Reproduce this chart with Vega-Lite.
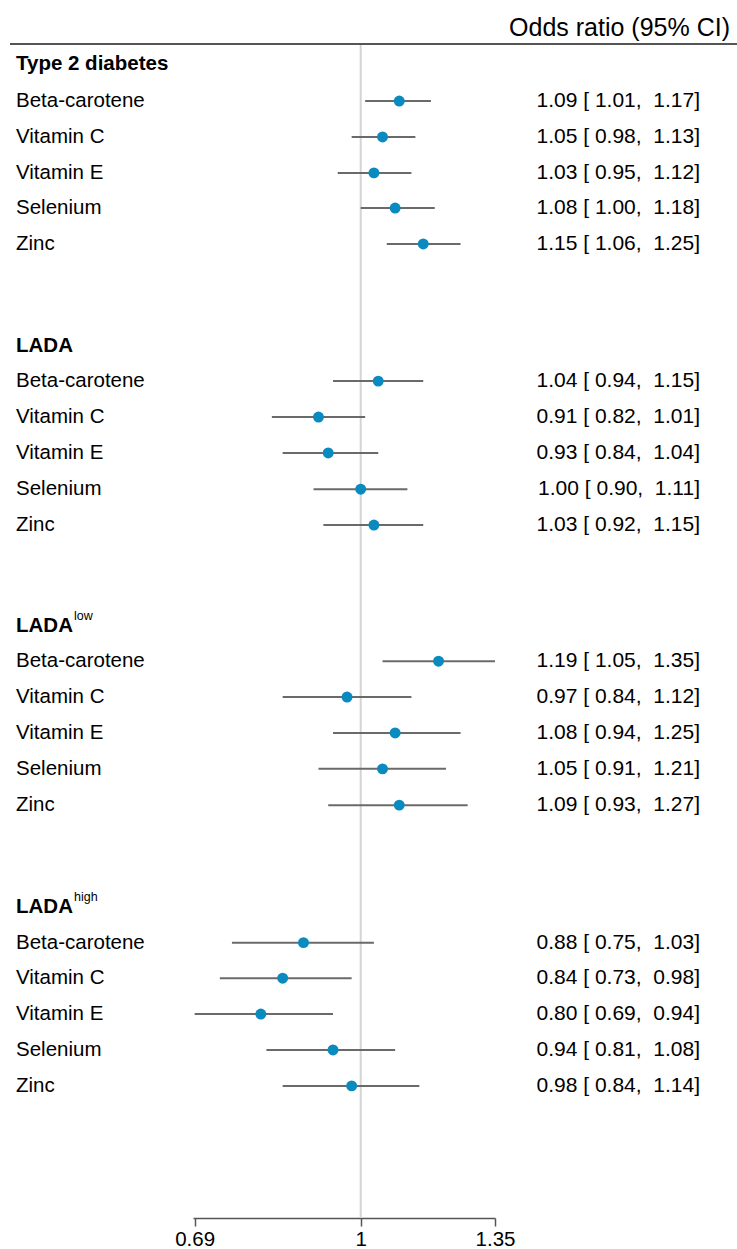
{
  "$schema": "https://vega.github.io/schema/vega-lite/v6.json",
  "padding": 0,
  "bounds": "flush",
  "spacing": 0,
  "background": "white",
  "config": {
    "view": {"stroke": null},
    "font": "Liberation Sans",
    "axis": {"grid": false, "labelFont": "Liberation Sans", "labelFontSize": 20.5, "labelColor": "#000000", "domainColor": "#555555", "domainWidth": 1.5, "tickColor": "#555555", "tickWidth": 1.5, "tickSize": 8, "labelPadding": 3, "labelFlush": false, "labelOverlap": false}
  },
  "datasets": {
    "forest": [
      {"label": "Type 2 diabetes", "kind": "title", "row": 0.55},
      {"label": "Beta-carotene", "kind": "item", "row": 1.59, "or": 1.09, "lo": 1.01, "hi": 1.17, "ci": "1.09 [\u00a01.01,\u00a0\u00a01.17]"},
      {"label": "Vitamin C", "kind": "item", "row": 2.59, "or": 1.05, "lo": 0.98, "hi": 1.13, "ci": "1.05 [\u00a00.98,\u00a0\u00a01.13]"},
      {"label": "Vitamin E", "kind": "item", "row": 3.59, "or": 1.03, "lo": 0.95, "hi": 1.12, "ci": "1.03 [\u00a00.95,\u00a0\u00a01.12]"},
      {"label": "Selenium", "kind": "item", "row": 4.57, "or": 1.08, "lo": 1.0, "hi": 1.18, "ci": "1.08 [\u00a01.00,\u00a0\u00a01.18]"},
      {"label": "Zinc", "kind": "item", "row": 5.57, "or": 1.15, "lo": 1.06, "hi": 1.25, "ci": "1.15 [\u00a01.06,\u00a0\u00a01.25]"},
      {"label": "LADA", "kind": "title", "row": 8.41},
      {"label": "Beta-carotene", "kind": "item", "row": 9.39, "or": 1.04, "lo": 0.94, "hi": 1.15, "ci": "1.04 [\u00a00.94,\u00a0\u00a01.15]"},
      {"label": "Vitamin C", "kind": "item", "row": 10.39, "or": 0.91, "lo": 0.82, "hi": 1.01, "ci": "0.91 [\u00a00.82,\u00a0\u00a01.01]"},
      {"label": "Vitamin E", "kind": "item", "row": 11.39, "or": 0.93, "lo": 0.84, "hi": 1.04, "ci": "0.93 [\u00a00.84,\u00a0\u00a01.04]"},
      {"label": "Selenium", "kind": "item", "row": 12.4, "or": 1.0, "lo": 0.9, "hi": 1.11, "ci": "1.00 [\u00a00.90,\u00a0\u00a01.11]"},
      {"label": "Zinc", "kind": "item", "row": 13.4, "or": 1.03, "lo": 0.92, "hi": 1.15, "ci": "1.03 [\u00a00.92,\u00a0\u00a01.15]"},
      {"label": "LADA", "kind": "title", "row": 16.21},
      {"label": "Beta-carotene", "kind": "item", "row": 17.19, "or": 1.19, "lo": 1.05, "hi": 1.35, "ci": "1.19 [\u00a01.05,\u00a0\u00a01.35]"},
      {"label": "Vitamin C", "kind": "item", "row": 18.19, "or": 0.97, "lo": 0.84, "hi": 1.12, "ci": "0.97 [\u00a00.84,\u00a0\u00a01.12]"},
      {"label": "Vitamin E", "kind": "item", "row": 19.19, "or": 1.08, "lo": 0.94, "hi": 1.25, "ci": "1.08 [\u00a00.94,\u00a0\u00a01.25]"},
      {"label": "Selenium", "kind": "item", "row": 20.19, "or": 1.05, "lo": 0.91, "hi": 1.21, "ci": "1.05 [\u00a00.91,\u00a0\u00a01.21]"},
      {"label": "Zinc", "kind": "item", "row": 21.2, "or": 1.09, "lo": 0.93, "hi": 1.27, "ci": "1.09 [\u00a00.93,\u00a0\u00a01.27]"},
      {"label": "LADA", "kind": "title", "row": 24.05},
      {"label": "Beta-carotene", "kind": "item", "row": 25.03, "or": 0.88, "lo": 0.75, "hi": 1.03, "ci": "0.88 [\u00a00.75,\u00a0\u00a01.03]"},
      {"label": "Vitamin C", "kind": "item", "row": 26.02, "or": 0.84, "lo": 0.73, "hi": 0.98, "ci": "0.84 [\u00a00.73,\u00a0\u00a00.98]"},
      {"label": "Vitamin E", "kind": "item", "row": 27.02, "or": 0.8, "lo": 0.69, "hi": 0.94, "ci": "0.80 [\u00a00.69,\u00a0\u00a00.94]"},
      {"label": "Selenium", "kind": "item", "row": 28.02, "or": 0.94, "lo": 0.81, "hi": 1.08, "ci": "0.94 [\u00a00.81,\u00a0\u00a01.08]"},
      {"label": "Zinc", "kind": "item", "row": 29.02, "or": 0.98, "lo": 0.84, "hi": 1.14, "ci": "0.98 [\u00a00.84,\u00a0\u00a01.14]"}
    ],
    "sups": [
      {"sup": "low", "row": 15.94},
      {"sup": "high", "row": 23.75}
    ],
    "header": [
      {"text": "Odds ratio (95% CI)", "row": -0.446, "line": 0}
    ]
  },
  "hconcat": [
    {
      "width": 193,
      "height": 1218,
      "layer": [
        {
          "data": {"name": "header"},
          "mark": {"type": "rule", "color": "#555555", "strokeWidth": 2, "xOffset": 10},
          "encoding": {
            "x": {"datum": 0, "type": "quantitative", "scale": {"domain": [0, 1], "nice": false}, "axis": null},
            "x2": {"datum": 1},
            "y": {"field": "line", "type": "quantitative", "scale": {"domain": [-1.2256, 32.7], "reverse": true, "nice": false, "zero": false}, "axis": null}
          }
        },
        {
          "data": {"name": "forest"},
          "transform": [{"filter": "datum.kind === 'title'"}],
          "mark": {"type": "text", "align": "left", "baseline": "middle", "dx": 16, "fontSize": 20.5, "fontWeight": "bold", "color": "#000000"},
          "encoding": {
            "x": {"datum": 0, "type": "quantitative", "scale": {"domain": [0, 1], "nice": false}, "axis": null},
            "y": {"field": "row", "type": "quantitative", "scale": {"domain": [-1.2256, 32.7], "reverse": true, "nice": false, "zero": false}, "axis": null},
            "text": {"field": "label"}
          }
        },
        {
          "data": {"name": "forest"},
          "transform": [{"filter": "datum.kind === 'item'"}],
          "mark": {"type": "text", "align": "left", "baseline": "middle", "dx": 16, "fontSize": 20.5, "color": "#000000"},
          "encoding": {
            "x": {"datum": 0, "type": "quantitative", "scale": {"domain": [0, 1], "nice": false}, "axis": null},
            "y": {"field": "row", "type": "quantitative", "scale": {"domain": [-1.2256, 32.7], "reverse": true, "nice": false, "zero": false}, "axis": null},
            "text": {"field": "label"}
          }
        },
        {
          "data": {"name": "sups"},
          "mark": {"type": "text", "align": "left", "baseline": "middle", "dx": 74, "fontSize": 12.5, "color": "#000000"},
          "encoding": {
            "x": {"datum": 0, "type": "quantitative", "scale": {"domain": [0, 1], "nice": false}, "axis": null},
            "y": {"field": "row", "type": "quantitative", "scale": {"domain": [-1.2256, 32.7], "reverse": true, "nice": false, "zero": false}, "axis": null},
            "text": {"field": "sup"}
          }
        }
      ]
    },
    {
      "width": 302,
      "height": 1218,
      "layer": [
        {
          "data": {"values": [{"ref": 1, "top": 0, "bottom": 32.7}]},
          "mark": {"type": "rule", "color": "#d4d4d4", "strokeWidth": 2},
          "encoding": {
            "x": {"field": "ref", "type": "quantitative", "scale": {"type": "log", "domain": [0.6875, 1.35], "nice": false}, "axis": {"values": [0.69, 1, 1.35], "format": "~g", "title": null}},
            "y": {"field": "top", "type": "quantitative", "scale": {"domain": [-1.2256, 32.7], "reverse": true, "nice": false, "zero": false}, "axis": null},
            "y2": {"field": "bottom"}
          }
        },
        {
          "data": {"values": [{"a": 0.6875, "b": 1.35, "line": 0}]},
          "mark": {"type": "rule", "color": "#555555", "strokeWidth": 2},
          "encoding": {
            "x": {"field": "a", "type": "quantitative", "axis": {"values": [0.69, 1, 1.35], "format": "~g", "title": null}},
            "x2": {"field": "b"},
            "y": {"field": "line", "type": "quantitative", "axis": null}
          }
        },
        {
          "data": {"name": "forest"},
          "transform": [{"filter": "datum.kind === 'item'"}],
          "mark": {"type": "rule", "color": "#6a6a6a", "strokeWidth": 2},
          "encoding": {
            "x": {"field": "lo", "type": "quantitative", "axis": {"values": [0.69, 1, 1.35], "format": "~g", "title": null}},
            "x2": {"field": "hi"},
            "y": {"field": "row", "type": "quantitative", "axis": null}
          }
        },
        {
          "data": {"name": "forest"},
          "transform": [{"filter": "datum.kind === 'item'"}],
          "mark": {"type": "circle", "color": "#0a8bc0", "opacity": 1, "size": 120},
          "encoding": {
            "x": {"field": "or", "type": "quantitative", "axis": {"values": [0.69, 1, 1.35], "format": "~g", "title": null}},
            "y": {"field": "row", "type": "quantitative", "axis": null}
          }
        }
      ]
    },
    {
      "width": 242,
      "height": 1218,
      "layer": [
        {
          "data": {"name": "header"},
          "mark": {"type": "rule", "color": "#555555", "strokeWidth": 2},
          "encoding": {
            "x": {"datum": 0, "type": "quantitative", "scale": {"domain": [0, 1], "nice": false}, "axis": null},
            "x2": {"datum": 1},
            "y": {"field": "line", "type": "quantitative", "scale": {"domain": [-1.2256, 32.7], "reverse": true, "nice": false, "zero": false}, "axis": null}
          }
        },
        {
          "data": {"name": "header"},
          "mark": {"type": "text", "align": "right", "baseline": "middle", "dx": -7, "fontSize": 25, "color": "#000000"},
          "encoding": {
            "x": {"datum": 1, "type": "quantitative", "scale": {"domain": [0, 1], "nice": false}, "axis": null},
            "y": {"field": "row", "type": "quantitative", "scale": {"domain": [-1.2256, 32.7], "reverse": true, "nice": false, "zero": false}, "axis": null},
            "text": {"field": "text"}
          }
        },
        {
          "data": {"name": "forest"},
          "transform": [{"filter": "datum.kind === 'item'"}],
          "mark": {"type": "text", "align": "right", "baseline": "middle", "dx": -37, "fontSize": 21, "color": "#000000"},
          "encoding": {
            "x": {"datum": 1, "type": "quantitative", "scale": {"domain": [0, 1], "nice": false}, "axis": null},
            "y": {"field": "row", "type": "quantitative", "scale": {"domain": [-1.2256, 32.7], "reverse": true, "nice": false, "zero": false}, "axis": null},
            "text": {"field": "ci"}
          }
        }
      ]
    }
  ]
}
